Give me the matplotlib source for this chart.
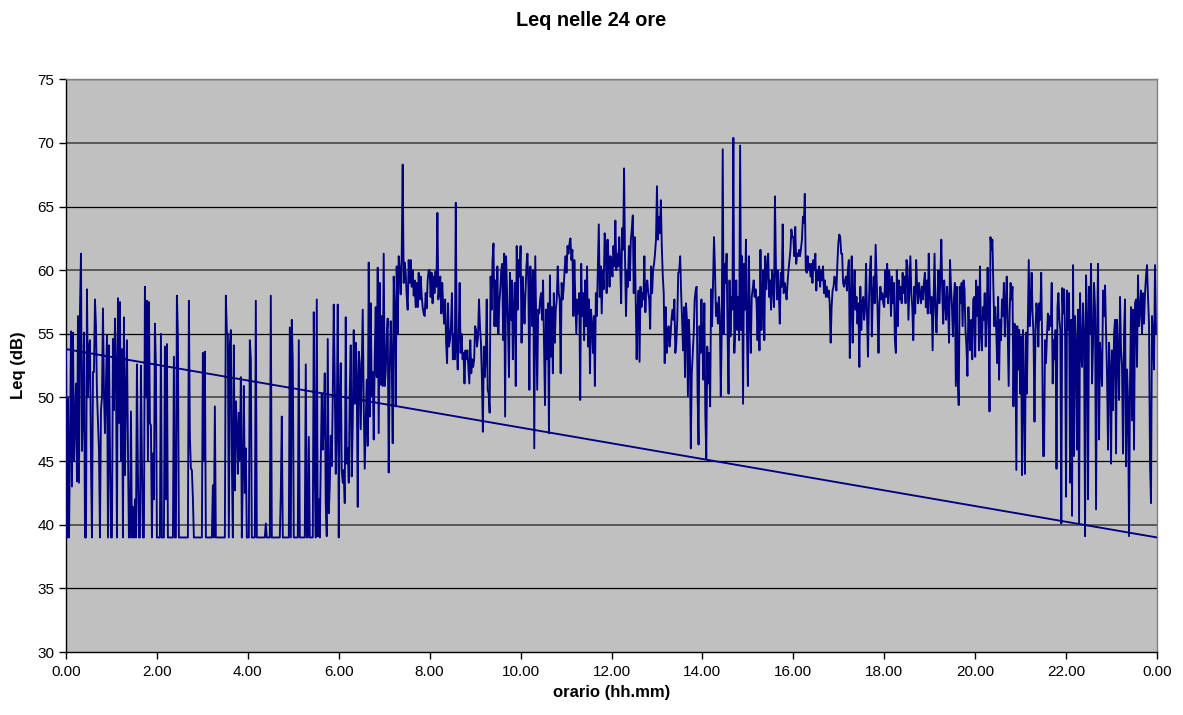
import numpy as np
import matplotlib
matplotlib.use("Agg")
import matplotlib.pyplot as plt

plt.rcParams['font.family'] = ['Liberation Sans', 'DejaVu Sans']

# Leq readings (dB), one list per 2-hour block
h00_02 = [53.8, 39, 50.0, 39, 46, 55.2, 43.0, 55.1, 45.0, 48.0, 51.1, 43.4, 56.4, 43.3, 57.0, 61.3,
          45.8, 49.0, 55.1, 39, 39, 58.5, 50.0, 54.0, 54.5, 45.0, 39, 52.0, 52.0, 57.7, 55.6, 50.3,
          48.0, 45.9, 39, 49.0, 50.0, 57.0, 50.3, 47.2, 51.0, 54.9, 39, 54.1, 46.0, 39, 39, 54.6,
          49.0, 56.2, 52.5, 39, 57.8, 48.0, 57.5, 45.0, 53.8, 39, 56.3, 43.9, 50.0, 54.5, 46.0, 39,
          39, 48.9, 39, 41.4, 39, 42.0, 39, 52.6, 44.0, 39, 39, 52.5, 45.0, 39, 39, 58.7, 50.0,
          57.6, 45.0, 57.5, 48.0, 47.8, 39, 45.6, 42.0, 55.8, 52.5]
h02_04 = [39, 39, 39, 39, 55.0, 39, 39, 39, 54.0, 42.0, 54.2, 39, 39, 39, 39, 39, 39, 53.2, 39, 39,
          58.0, 54.9, 39, 39, 39, 39, 39, 39, 39, 39, 39, 39, 57.6, 47, 44.4, 44.3, 42.1, 39, 39, 39,
          39, 39, 39, 39, 39, 39, 53.5, 45, 53.6, 39, 39, 39, 39, 39, 39, 39, 43.1, 39, 49.3, 39,
          39, 39, 39, 39, 39, 39, 39, 39, 39, 58.0, 55.1, 55.0, 39, 54.1, 55.3, 45, 39, 54.1, 42.7,
          49.7, 47.7, 44, 48.8, 45, 51.6, 39, 44, 50.9, 42.5, 46, 39]
h04_06 = [39, 39, 54.5, 53.0, 39, 39, 39, 39, 57.6, 39, 39, 39, 39, 39, 39, 39, 39, 39, 40.1, 39,
          39, 39, 39, 58.0, 39, 39, 39, 39, 39, 39, 39, 39, 39, 42.5, 48.5, 39, 39, 39, 39, 39, 39,
          39, 55.5, 39, 56.1, 52.7, 39, 39, 39, 39, 39, 54.5, 39, 39, 39, 39, 39, 39, 52.6, 39, 39,
          46.9, 39, 39, 39, 39, 56.7, 44.0, 39, 57.7, 39.1, 42.0, 39, 45, 50.3, 45.9, 48, 51.9, 41.6,
          39.1, 54.6, 40.9, 43.0, 47, 44.6, 50, 57.3, 51.4, 44.0, 48, 57.3]
h06_08 = [39.0, 50.0, 52.7, 44.3, 43.3, 44.3, 41.7, 56.3, 44.8, 46.0, 43.3, 50.3, 54.1, 43.8, 48.0,
          55.3, 49.5, 54.3, 51.4, 41.4, 53.6, 52.7, 47.5, 52.0, 56.9, 49.5, 44.4, 48.0, 51.4, 46.2,
          60.6, 48.5, 57.4, 50.1, 52.0, 46.7, 53.2, 57.1, 51.6, 60.2, 47.2, 59.0, 51.0, 56.4, 50.9,
          61.3, 50.9, 52.0, 54.8, 56.2, 44.1, 52.0, 56.0, 53.2, 46.4, 59.5, 57.1, 49.3, 60.3, 55.0,
          61.1, 60.0, 58.1, 61.1, 68.3, 59.0, 60.6, 59.8, 58.0, 56.9, 60.8, 59.0, 60.8, 58.7, 60.0,
          58.0, 59.2, 57.1, 59.0, 57.1, 59.8, 57.7, 59.5, 58.0, 57.1, 56.6, 56.4, 58.2, 57.0, 59.2, 60.0]
h08_10 = [60.0, 57.9, 59.8, 57.4, 59.5, 58.2, 59.9, 58.7, 64.5, 57.7, 58.7, 59.5, 56.6, 59.0, 57.1,
          55.8, 57.7, 54.3, 52.7, 57.4, 54.0, 54.5, 55.6, 58.2, 53.0, 55.0, 53.0, 65.3, 54.0, 52.2,
          55.0, 59.0, 53.5, 55.0, 53.0, 53.5, 51.1, 53.7, 53.0, 53.7, 52.4, 51.1, 54.5, 51.9, 53.0,
          52.4, 53.0, 55.6, 55.3, 54.0, 54.8, 57.7, 55.6, 54.3, 51.6, 47.3, 54.0, 51.6, 53.0, 57.7,
          50.6, 50.3, 48.8, 59.5, 56.9, 60.8, 62.1, 55.6, 59.2, 55.6, 60.3, 55.0, 57.4, 58.5, 60.0,
          60.5, 54.5, 61.3, 48.5, 61.1, 58.2, 55.6, 51.6, 59.8, 56.1, 59.2, 53.0, 56.9, 59.0, 50.9,
          61.9, 56.9, 60.8, 59.5]
h10_12 = [61.9, 54.3, 59.5, 57.9, 55.8, 58.2, 60.3, 61.3, 58.7, 50.6, 60.3, 58.2, 55.6, 60.0, 46.0,
          61.1, 55.6, 50.6, 56.9, 56.6, 57.7, 58.2, 56.1, 59.2, 54.0, 49.4, 56.9, 53.0, 57.4, 47.2,
          59.6, 53.2, 57.1, 51.9, 58.2, 54.3, 56.9, 57.7, 60.3, 58.2, 57.7, 51.9, 59.0, 57.7, 58.5,
          60.0, 61.1, 59.8, 61.9, 61.3, 62.1, 62.5, 60.8, 61.6, 56.4, 60.8, 57.7, 55.0, 57.7, 56.6,
          58.2, 49.8, 60.5, 56.4, 58.2, 54.5, 59.2, 55.6, 60.3, 54.0, 57.7, 51.9, 56.9, 55.8, 53.5,
          56.4, 50.9, 58.2, 56.4, 60.0, 63.6, 57.9, 60.3, 56.6, 60.0, 58.5, 62.9, 61.9, 58.2, 62.4,
          60.8, 58.7, 61.1]
h12_14 = [60.5, 59.5, 61.9, 60.3, 63.9, 60.0, 61.3, 60.3, 62.6, 60.5, 57.4, 63.3, 61.6, 68.0, 60.8,
          56.4, 60.0, 58.7, 61.9, 59.2, 62.4, 63.2, 64.3, 58.2, 62.6, 57.7, 53.0, 57.1, 58.4, 52.8,
          58.7, 57.1, 58.2, 57.7, 61.1, 56.7, 58.7, 59.2, 58.2, 57.7, 55.4, 60.3, 58.2, 60.0, 60.5,
          61.3, 62.4, 66.6, 62.4, 64.2, 62.9, 65.5, 61.9, 59.6, 58.2, 52.7, 57.1, 53.5, 54.8, 55.6,
          54.0, 54.8, 56.1, 56.9, 56.1, 57.7, 53.5, 54.3, 56.1, 59.8, 59.9, 61.1, 58.2, 56.1, 53.7,
          57.1, 51.6, 57.4, 56.1, 50.1, 56.1, 54.0, 46.0, 51.9, 53.5, 55.0, 57.7, 58.4, 58.7, 50.3,
          46.3, 55.6, 53.5, 57.7]
h14_16 = [54.3, 51.4, 57.4, 48.8, 45.2, 54.0, 51.1, 53.5, 49.3, 58.5, 55.6, 59.2, 62.6, 60.0, 56.4,
          57.4, 55.8, 57.9, 56.4, 50.1, 55.3, 69.5, 55.0, 60.5, 59.0, 61.3, 55.3, 50.3, 59.2, 54.8,
          57.9, 56.9, 70.4, 53.5, 55.8, 59.2, 55.3, 57.9, 54.5, 69.8, 55.3, 61.1, 49.5, 60.5, 56.9,
          62.4, 55.3, 50.9, 61.1, 56.6, 53.5, 57.9, 58.5, 59.2, 57.9, 58.5, 57.4, 54.5, 57.9, 53.7,
          61.6, 55.3, 57.9, 60.0, 54.5, 61.1, 58.5, 60.0, 61.3, 57.9, 59.2, 56.9, 60.0, 58.7, 57.1,
          65.8, 60.3, 57.7, 60.0, 58.2, 55.8, 59.8, 58.7, 63.6, 58.2, 59.0, 58.5, 57.7, 59.0, 60.0,
          60.8, 61.6, 63.2, 62.6]
h16_18 = [62.6, 61.1, 63.4, 60.5, 61.3, 61.1, 61.6, 61.1, 61.7, 62.4, 64.2, 63.7, 66.0, 60.0, 59.8,
          61.1, 60.0, 60.5, 59.5, 60.5, 59.0, 60.8, 60.0, 61.3, 58.4, 60.0, 59.2, 60.3, 58.7, 60.0,
          59.2, 60.3, 58.2, 59.2, 57.9, 58.7, 57.9, 58.4, 57.4, 54.3, 57.1, 58.4, 58.7, 59.5, 59.2,
          58.4, 60.5, 62.1, 62.8, 62.6, 61.3, 61.3, 59.0, 58.7, 59.2, 59.5, 58.4, 60.0, 60.8, 53.1,
          57.4, 61.1, 54.3, 57.9, 60.0, 56.9, 57.9, 55.8, 57.4, 52.4, 58.7, 55.3, 57.4, 57.9, 56.1,
          57.1, 60.5, 56.4, 53.2, 57.4, 60.0, 61.1, 54.8, 57.9, 59.5, 57.4, 62.0, 59.5, 56.9, 53.5,
          57.4, 58.7, 57.7, 58.2, 57.4]
h18_20 = [57.1, 60.0, 57.9, 60.5, 57.4, 60.0, 59.2, 56.4, 59.5, 57.4, 59.0, 54.5, 53.5, 60.0, 55.6,
          59.2, 57.7, 58.7, 57.4, 59.8, 58.2, 59.5, 57.4, 60.8, 60.3, 56.1, 58.7, 61.1, 58.2, 57.1,
          54.5, 58.7, 56.6, 60.8, 58.7, 57.4, 59.0, 58.2, 57.4, 58.7, 57.7, 59.0, 59.8, 57.1, 59.2,
          56.6, 61.3, 58.2, 56.6, 57.9, 53.7, 57.4, 61.3, 56.9, 55.1, 57.7, 60.0, 57.4, 59.2, 62.4,
          58.2, 55.8, 59.2, 57.4, 56.1, 58.7, 57.1, 54.3, 60.8, 58.7, 57.1, 54.8, 57.7, 59.0, 50.9,
          58.7, 51.4, 49.4, 58.7, 57.4, 59.0, 55.6, 59.2, 58.5, 55.3, 54.0, 51.7, 57.1, 55.1, 53.7,
          56.1, 53.0, 57.7, 57.9]
h20_22 = [53.2, 59.2, 56.4, 58.7, 53.7, 60.3, 55.1, 53.7, 57.1, 56.1, 58.2, 54.0, 56.1, 60.2, 56.6,
          48.9, 62.6, 61.6, 62.4, 58.7, 55.6, 57.1, 55.3, 52.7, 57.9, 51.4, 56.1, 54.5, 57.7, 56.4,
          59.0, 54.8, 57.4, 59.5, 55.3, 50.9, 56.6, 59.0, 57.7, 58.7, 49.3, 55.8, 55.6, 44.3, 55.6,
          52.2, 55.3, 50.3, 54.8, 43.9, 55.3, 50.3, 44.0, 55.1, 50.3, 55.3, 60.8, 55.6, 57.1, 59.8,
          56.6, 54.8, 48.1, 55.3, 57.4, 56.6, 54.0, 57.4, 56.1, 59.8, 54.3, 45.4, 45.4, 54.5, 52.7,
          54.8, 56.6, 55.3, 56.4, 55.6, 59.0, 51.1, 54.5, 53.0, 55.3, 44.4, 57.1, 58.2, 56.1, 55.3,
          40.1, 58.6, 56.6, 58.5, 54.8]
h22_24 = [42.2, 58.4, 55.3, 58.2, 43.3, 56.1, 40.7, 60.4, 45.4, 56.4, 54.3, 45.9, 56.9, 40.1, 58.2,
          53.7, 52.4, 57.4, 55.0, 39.1, 59.6, 56.4, 42.0, 58.7, 55.0, 60.5, 51.1, 54.3, 59.0, 56.9,
          41.2, 55.0, 60.5, 46.7, 54.3, 52.4, 50.9, 58.4, 56.4, 58.8, 55.0, 51.6, 45.9, 54.3, 52.4,
          44.8, 53.7, 49.0, 55.0, 56.1, 45.6, 56.1, 53.7, 49.8, 57.9, 53.7, 52.4, 45.6, 55.0, 57.7,
          44.6, 52.2, 49.8, 39.1, 51.1, 57.1, 48.2, 56.9, 45.9, 57.4, 57.7, 52.4, 59.6, 55.6, 56.9,
          58.4, 55.0, 58.2, 55.8, 58.2, 59.5, 60.4, 57.9, 55.8, 44.8, 41.7, 56.4, 55.0, 52.2, 60.4,
          55.0]
end_value = 39.0   # reading at 24.00 (drawn first, joined back to 0.00)

blocks = [h00_02, h02_04, h04_06, h06_08, h08_10, h10_12,
          h12_14, h14_16, h16_18, h18_20, h20_22, h22_24]

times, values = [], []
for k, blk in enumerate(blocks):
    n = len(blk)
    times.extend(2 * k + 2 * np.arange(n) / n)
    values.extend(blk)
times = [24.0] + list(times)
values = [end_value] + list(values)

y_ticks = [30, 35, 40, 45, 50, 55, 60, 65, 70, 75]
x_ticks = list(range(0, 25, 2))
x_labels = ["0.00", "2.00", "4.00", "6.00", "8.00", "10.00", "12.00", "14.00",
            "16.00", "18.00", "20.00", "22.00", "0.00"]

fig = plt.figure(figsize=(11.83, 7.15), dpi=100)
ax = fig.add_axes([66 / 1183, 1 - 652 / 715, (1157 - 66) / 1183, (652 - 79.3) / 715])
ax.set_facecolor('#C0C0C0')

for yv in y_ticks[1:]:
    if yv % 10 == 0:
        ax.axhline(yv, color='#505050', lw=1.3, zorder=1)
    else:
        ax.axhline(yv, color='black', lw=0.9, zorder=1)

ax.plot(times, values, color='#000080', lw=1.35, zorder=3)

ax.set_xlim(0, 24)
ax.set_ylim(30, 75)
ax.set_xticks(x_ticks)
ax.set_xticklabels(x_labels)
ax.set_yticks(y_ticks)
ax.tick_params(axis='both', direction='out', length=5, width=1, labelsize=11, colors='black')
ax.tick_params(axis='x', pad=4)
for s in ['left', 'bottom']:
    ax.spines[s].set_color('black')
    ax.spines[s].set_linewidth(1)
for s in ['top', 'right']:
    ax.spines[s].set_color('#808080')
    ax.spines[s].set_linewidth(1)

ax.set_xlabel('orario (hh.mm)', fontsize=12, fontweight='bold', labelpad=5)
ax.set_ylabel('Leq (dB)', fontsize=12, fontweight='bold', labelpad=8)
fig.suptitle('Leq nelle 24 ore', x=591 / 1183, y=1 - 20 / 715, va='center',
             fontsize=14.3, fontweight='bold')

fig.savefig('out.png', dpi=100, facecolor='white')
